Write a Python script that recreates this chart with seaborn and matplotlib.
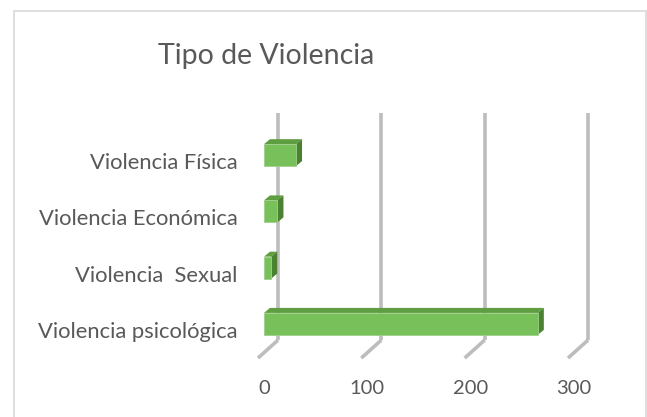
import matplotlib
matplotlib.use("Agg")
import matplotlib.pyplot as plt
import matplotlib.transforms as mtransforms
from matplotlib.patches import Polygon, Rectangle
import seaborn as sns
import pandas as pd

# datos
categorias = ["Violencia Física", "Violencia Económica", "Violencia  Sexual", "Violencia psicológica"]
valores = [31, 13, 7, 265]
ticks_x = [0, 100, 200, 300]

df = pd.DataFrame({"tipo": categorias, "casos": valores})

sns.set_style("white")
plt.rcParams["font.family"] = ["Lato", "DejaVu Sans"]

W, H = 647, 417
fig = plt.figure(figsize=(W / 100, H / 100), dpi=100)

# marco del grafico
fig.patches.append(Rectangle((14 / W, -0.05), (646 - 14) / W, 1.05 - 11 / H,
                             transform=fig.transFigure, fill=False,
                             edgecolor="#D9D9D9", linewidth=1.2))

# ejes = plano frontal de las barras
ax = fig.add_axes([264 / W, (H - 352) / H, 310 / W, 225 / H])
verde = "#78C15A"
sns.barplot(data=df, y="tipo", x="casos", orient="h", color=verde,
            width=0.39, saturation=1, edgecolor="#9FCF8A", linewidth=0.6, ax=ax)
ax.set_xlim(0, 300)
ax.set_ylim(3.5, -0.5)
ax.set_xlabel("")
ax.set_ylabel("")

ux = 300 / 310          # unidades de datos por pixel (x)
uy = 4 / 225            # unidades de datos por pixel (y)

# pared del fondo: lineas de cuadricula y piso
xt = ax.get_xaxis_transform()
for v in ticks_x:
    ax.plot([v + 14 * ux, v + 14 * ux], [0.053, 1.062], color="#BDBDBD",
            lw=2.6, transform=xt, clip_on=False, zorder=0.5, solid_capstyle="butt")
    ax.plot([v + 14 * ux, v - 6 * ux], [0.053, -0.027], color="#BDBDBD",
            lw=2.6, transform=xt, clip_on=False, zorder=0.5, solid_capstyle="butt")

# efecto 3D de las barras
dx, dy = 6 * ux, -5 * uy
for p in ax.patches:
    x0, y0 = p.get_x(), p.get_y()
    w, h = p.get_width(), p.get_height()
    x1 = x0 + w
    ytop, ybot = min(y0, y0 + h), max(y0, y0 + h)
    top = Polygon([(x0, ytop), (x1, ytop), (x1 + dx, ytop + dy), (x0 + dx, ytop + dy)],
                  closed=True, facecolor="#5E9E40", edgecolor="none", zorder=3, clip_on=False)
    side = Polygon([(x1, ytop), (x1, ybot), (x1 + dx, ybot + dy), (x1 + dx, ytop + dy)],
                   closed=True, facecolor="#4B8231", edgecolor="none", zorder=3, clip_on=False)
    ax.add_patch(top)
    ax.add_patch(side)
    p.set_zorder(4)
    p.set_clip_on(False)

ax.set_xticks(ticks_x)
ax.set_xticklabels([str(t) for t in ticks_x])
ax.tick_params(axis="x", length=0, pad=20, labelsize=14.5, labelcolor="#595959")
ax.tick_params(axis="y", length=0, pad=19, labelsize=15.8, labelcolor="#595959")
off = mtransforms.ScaledTranslation(0, -6 / 100, fig.dpi_scale_trans)
for lab in ax.get_yticklabels():
    lab.set_transform(lab.get_transform() + off)
for s in ax.spines.values():
    s.set_visible(False)
ax.grid(False)
ax.patch.set_alpha(0)

fig.text(266 / W, 1 - 56 / H, "Tipo de Violencia", ha="center", va="center",
         fontsize=20.5, color="#595959")

fig.savefig("out.png", dpi=100)
